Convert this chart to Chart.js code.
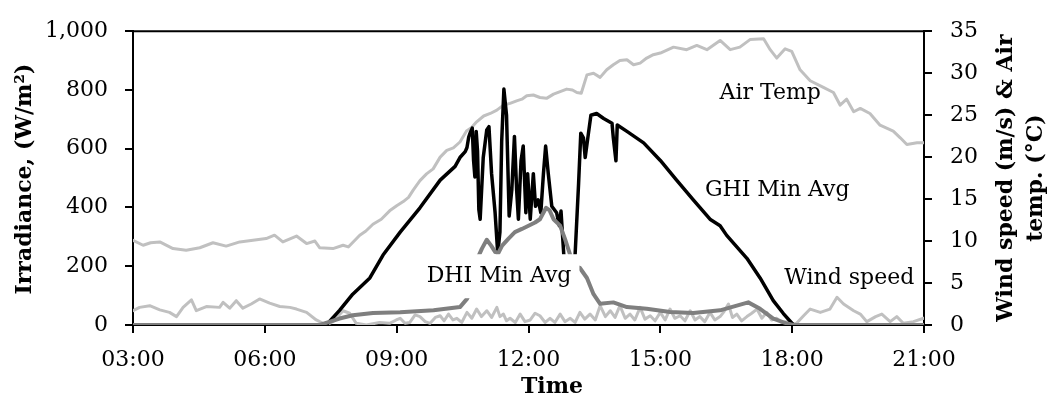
<!DOCTYPE html>
<html>
<head>
<meta charset="utf-8">
<script src="https://cdn.jsdelivr.net/npm/chart.js@4.4.1/dist/chart.umd.min.js"></script>
<style>
  html, body { margin: 0; padding: 0; background: #fff; }
  #wrap { width: 1047px; height: 399px; }
</style>
</head>
<body>
<div id="wrap"><canvas id="chart" width="1047" height="399"></canvas></div>
<script>
// values (hours as decimal, 3 = 03:00)
const ghiHours = [3.00, 7.40, 7.70, 8.00, 8.39, 8.69, 9.08, 9.53, 9.99, 10.33, 10.44, 10.56, 10.60, 10.64, 10.67, 10.72, 10.75, 10.78, 10.81, 10.84, 10.87, 10.90, 10.97, 11.05, 11.10, 11.16, 11.24, 11.30, 11.35, 11.39, 11.44, 11.50, 11.56, 11.62, 11.68, 11.73, 11.77, 11.83, 11.88, 11.94, 11.98, 12.04, 12.11, 12.16, 12.22, 12.28, 12.34, 12.39, 12.45, 12.53, 12.64, 12.70, 12.74, 12.77, 12.82, 12.90, 13.00, 13.06, 13.14, 13.19, 13.25, 13.29, 13.36, 13.42, 13.55, 13.71, 13.90, 13.93, 13.99, 14.02, 14.24, 14.62, 15.00, 15.37, 15.75, 16.13, 16.36, 16.51, 16.97, 17.27, 17.57, 17.80, 18.03, 21.00];
const ghiVals  = [0, 0, 50, 105, 160, 238, 316, 399, 493, 540, 570, 590, 604, 640, 653, 670, 560, 504, 659, 592, 393, 360, 570, 664, 675, 515, 382, 244, 316, 626, 803, 714, 371, 460, 642, 460, 360, 559, 609, 382, 515, 360, 515, 404, 426, 382, 515, 609, 515, 404, 382, 338, 388, 316, 200, 100, 100, 238, 482, 653, 637, 570, 648, 714, 720, 703, 687, 637, 559, 681, 659, 620, 560, 493, 426, 360, 338, 305, 227, 160, 83, 39, 0, 0];

const dhiHours = [3.00, 7.25, 7.70, 8.00, 8.46, 9.08, 9.84, 10.44, 10.60, 10.67, 10.75, 10.85, 10.94, 11.05, 11.15, 11.24, 11.31, 11.40, 11.54, 11.69, 11.85, 12.00, 12.15, 12.26, 12.40, 12.48, 12.57, 12.72, 12.83, 12.95, 13.05, 13.17, 13.33, 13.48, 13.63, 13.93, 14.24, 14.69, 15.22, 15.75, 16.36, 16.74, 17.00, 17.27, 17.57, 17.88, 18.03, 21.00];
const dhiVals  = [0, 0, 22, 33, 41, 43, 50, 61, 89, 110, 170, 230, 260, 290, 270, 249, 244, 270, 293, 316, 327, 338, 349, 360, 399, 390, 360, 338, 293, 238, 200, 194, 160, 105, 72, 77, 61, 55, 44, 41, 50, 66, 77, 55, 22, 5, 0, 0];

const tempHours = [3.00, 3.23, 3.40, 3.61, 3.91, 4.21, 4.52, 4.82, 5.12, 5.43, 5.73, 6.03, 6.22, 6.41, 6.72, 6.95, 7.14, 7.25, 7.55, 7.78, 7.90, 8.16, 8.30, 8.46, 8.65, 8.84, 9.00, 9.15, 9.27, 9.38, 9.53, 9.68, 9.83, 9.99, 10.14, 10.29, 10.44, 10.59, 10.70, 10.82, 10.98, 11.13, 11.28, 11.43, 11.58, 11.73, 11.85, 11.96, 12.11, 12.26, 12.41, 12.57, 12.72, 12.87, 13.00, 13.10, 13.20, 13.33, 13.48, 13.63, 13.78, 13.93, 14.08, 14.24, 14.39, 14.54, 14.69, 14.84, 15.00, 15.30, 15.60, 15.83, 16.06, 16.36, 16.59, 16.81, 17.04, 17.35, 17.50, 17.65, 17.84, 17.99, 18.18, 18.41, 18.71, 18.94, 19.09, 19.24, 19.40, 19.55, 19.77, 20.00, 20.30, 20.46, 20.61, 20.84, 21.00];
const tempVals  = [10.1, 9.5, 9.8, 9.9, 9.1, 8.9, 9.2, 9.8, 9.4, 9.9, 10.1, 10.3, 10.7, 9.9, 10.6, 9.7, 10.0, 9.2, 9.1, 9.5, 9.3, 10.7, 11.2, 12.0, 12.6, 13.6, 14.2, 14.7, 15.2, 16.1, 17.2, 18.0, 18.6, 20.0, 20.8, 21.1, 21.8, 23.1, 23.5, 24.2, 24.9, 25.2, 25.6, 26.2, 26.4, 26.7, 26.9, 27.3, 27.4, 27.1, 27.0, 27.5, 27.8, 28.1, 28.0, 27.7, 27.6, 29.8, 30.0, 29.5, 30.4, 31.0, 31.5, 31.6, 31.0, 31.2, 31.8, 32.2, 32.4, 33.1, 32.8, 33.3, 32.8, 33.9, 32.8, 33.1, 34.0, 34.1, 32.8, 31.8, 32.9, 32.6, 30.4, 29.1, 28.3, 27.7, 26.2, 26.9, 25.4, 25.8, 25.2, 23.8, 23.1, 22.3, 21.5, 21.7, 21.7];

const windHours = [3.00, 3.15, 3.38, 3.61, 3.83, 3.99, 4.14, 4.33, 4.44, 4.67, 4.97, 5.05, 5.20, 5.35, 5.50, 5.69, 5.88, 6.11, 6.34, 6.57, 6.72, 6.95, 7.17, 7.40, 7.55, 7.78, 7.93, 8.08, 8.31, 8.61, 8.84, 8.99,
  9.08, 9.19, 9.30, 9.42, 9.53, 9.65, 9.76, 9.88, 9.99, 10.08, 10.18, 10.28, 10.37, 10.48, 10.60, 10.71, 10.82, 10.93, 11.05, 11.16, 11.28, 11.35, 11.43, 11.50, 11.58, 11.70, 11.81, 11.92, 12.04, 12.15, 12.26, 12.38, 12.49, 12.60, 12.72, 12.83, 12.95, 13.06, 13.17, 13.28, 13.40, 13.52, 13.63, 13.75, 13.86, 13.97, 14.08, 14.20, 14.31, 14.42, 14.54, 14.65, 14.77, 14.88, 15.00, 15.11, 15.22, 15.33, 15.45, 15.56, 15.68, 15.79, 15.90, 16.01, 16.13, 16.24, 16.36, 16.45, 16.55, 16.64, 16.74, 16.85, 16.97, 17.08, 17.20, 17.31, 17.42, 17.53, 17.65, 17.76, 17.88, 18.00, 18.10,
  18.26, 18.41, 18.64, 18.86, 19.02, 19.17, 19.40, 19.55, 19.70, 19.90, 20.04, 20.23, 20.38, 20.53, 20.76, 20.99];
const windVals  = [1.7, 2.1, 2.3, 1.8, 1.5, 1.0, 2.1, 3.0, 1.7, 2.2, 2.1, 2.7, 2.0, 2.9, 2.0, 2.5, 3.1, 2.6, 2.2, 2.1, 1.9, 1.5, 0.6, 0.0, 0.4, 1.7, 1.4, 0.2, 0.0, 0.3, 0.2, 0.6,
  0.8, 0.2, 0.3, 1.2, 1.0, 0.4, 0.2, 0.9, 1.1, 0.5, 1.3, 0.6, 0.8, 0.3, 1.5, 0.8, 1.9, 1.0, 1.7, 0.9, 2.1, 1.0, 1.3, 0.5, 0.8, 0.3, 1.3, 0.4, 0.6, 1.4, 1.1, 0.3, 0.8, 0.3, 1.3, 0.4, 0.8, 0.3, 1.5, 0.7, 1.3, 0.6, 2.3, 1.0, 1.7, 0.9, 2.3, 0.8, 1.3, 0.6, 2.1, 0.7, 1.1, 0.5, 1.5, 0.6, 1.9, 0.8, 1.1, 0.5, 1.7, 0.6, 1.0, 0.4, 1.5, 0.6, 1.0, 1.6, 2.5, 0.9, 1.3, 0.5, 1.0, 1.4, 1.9, 0.8, 1.5, 0.6, 0.8, 0.3, 0.4, 0.1, 0.2,
  1.1, 1.9, 1.5, 1.9, 3.3, 2.5, 1.7, 1.3, 0.4, 1.0, 1.3, 0.4, 1.0, 0.2, 0.4, 0.8];

const xTicks = [3, 6, 9, 12, 15, 18, 21];

const FONT = 'DejaVu Serif';

function pts(hours, vals) {
  return hours.map((h, i) => ({ x: h, y: vals[i] }));
}

function hhmm(v) {
  return String(v).padStart(2, '0') + ':00';
}

// in-chart series labels, anchored in data units
const seriesLabels = [
  { text: 'Air Temp', x: 17.5, y: 27.6, axis: 'y2', box: false },
  { text: 'GHI Min Avg', x: 17.66, y: 458, axis: 'y', box: false },
  { text: 'Wind speed', x: 19.3, y: 159, axis: 'y', box: false },
  { text: 'DHI Min Avg', x: 11.33, y: 166, axis: 'y', box: true }
];

const overlay = {
  id: 'overlay',
  afterDatasetsDraw(chart) {
    const { ctx, chartArea: a, scales } = chart;
    ctx.save();
    // top frame line
    ctx.strokeStyle = '#000';
    ctx.lineWidth = 2;
    ctx.beginPath();
    ctx.moveTo(a.left - 1, a.top);
    ctx.lineTo(a.right + 1, a.top);
    ctx.stroke();

    ctx.font = '22px "' + FONT + '"';
    ctx.textAlign = 'center';
    ctx.textBaseline = 'middle';
    seriesLabels.forEach(l => {
      const px = scales.x.getPixelForValue(l.x);
      const py = scales[l.axis].getPixelForValue(l.y);
      if (l.box) {
        const w = ctx.measureText(l.text).width;
        ctx.fillStyle = '#fff';
        ctx.fillRect(px - w / 2 - 6, py - 22, w + 14, 44);
      }
      ctx.fillStyle = '#000';
      ctx.fillText(l.text, px, py);
    });
    ctx.restore();
  },
  afterDraw(chart) {
    const { ctx, chartArea: a } = chart;
    ctx.save();
    ctx.fillStyle = '#000';
    ctx.font = 'bold 22px "' + FONT + '"';
    ctx.textAlign = 'center';
    ctx.textBaseline = 'middle';
    const midY = (a.top + a.bottom) / 2;

    ctx.fillText('Time', 552, 387);

    ctx.save();
    ctx.translate(25, midY + 1);
    ctx.rotate(-Math.PI / 2);
    ctx.fillText('Irradiance, (W/m²)', 0, 0);
    ctx.restore();

    ctx.save();
    ctx.translate(1006, midY);
    ctx.rotate(-Math.PI / 2);
    ctx.fillText('Wind speed (m/s) & Air', 0, 0);
    ctx.fillText('temp. (°C)', 0, 30);
    ctx.restore();
    ctx.restore();
  }
};

const axisGrid = { drawOnChartArea: false, drawTicks: true, tickLength: 8, color: '#000', lineWidth: 2 };
const axisBorder = { display: true, color: '#000', width: 2 };
const tickFont = { family: FONT, size: 22 };

new Chart(document.getElementById('chart'), {
  type: 'line',
  data: {
    datasets: [
      { label: 'DHI Min Avg', data: pts(dhiHours, dhiVals), yAxisID: 'y', borderColor: '#7f7f7f', borderWidth: 4, order: 0 },
      { label: 'GHI Min Avg', data: pts(ghiHours, ghiVals), yAxisID: 'y', borderColor: '#000000', borderWidth: 3.5, order: 1 },
      { label: 'Wind speed', data: pts(windHours, windVals), yAxisID: 'y2', borderColor: '#c0c0c0', borderWidth: 3, order: 2 },
      { label: 'Air Temp', data: pts(tempHours, tempVals), yAxisID: 'y2', borderColor: '#c0c0c0', borderWidth: 3, order: 3 }
    ]
  },
  options: {
    responsive: false,
    animation: false,
    devicePixelRatio: 1,
    layout: { padding: { top: 24, left: 0, right: 0, bottom: 0 } },
    elements: { point: { radius: 0 }, line: { tension: 0, borderJoinStyle: 'round', borderCapStyle: 'round' } },
    plugins: { legend: { display: false }, tooltip: { enabled: false } },
    scales: {
      x: {
        type: 'linear', min: 3, max: 21,
        afterBuildTicks: s => { s.ticks = xTicks.map(v => ({ value: v })); },
        ticks: { callback: hhmm, font: tickFont, color: '#000', padding: 14, maxRotation: 0 },
        grid: axisGrid, border: axisBorder,
        afterFit: s => { s.height = 74; }
      },
      y: {
        position: 'left', min: 0, max: 1000,
        ticks: { stepSize: 200, callback: v => v.toLocaleString('en-US'), font: tickFont, color: '#000', padding: 17 },
        grid: axisGrid, border: axisBorder,
        afterFit: s => { s.width = 133; }
      },
      y2: {
        position: 'right', min: 0, max: 35,
        ticks: { stepSize: 5, font: tickFont, color: '#000', padding: 18 },
        grid: axisGrid, border: axisBorder,
        afterFit: s => { s.width = 123; }
      }
    }
  },
  plugins: [overlay]
});
</script>
</body>
</html>
